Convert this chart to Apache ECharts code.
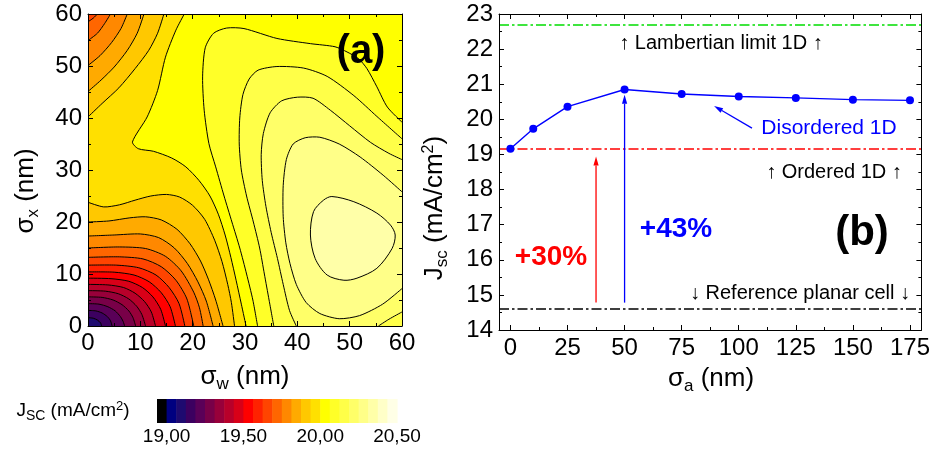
<!DOCTYPE html>
<html>
<head>
<meta charset="utf-8">
<script src="https://cdn.jsdelivr.net/npm/echarts@6/dist/echarts.min.js"></script>
<style>
html, body { margin: 0; padding: 0; background: #fff; }
#chart { width: 933px; height: 450px; }
</style>
</head>
<body>
<div id="chart"></div>
<script>
// ---------- panel (a): Jsc map, contour lines ([sigma_w, sigma_x] in nm) ----------
var bandColors = ['#000000', '#000080', '#1e0a70', '#3c0060', '#5a0058', '#780048', '#98003a', '#b8002a',
  '#d80018', '#ff0000', '#ff2200', '#ff4400', '#ff6600', '#ff8800', '#ffaa00', '#ffc800', '#ffe000',
  '#ffff00', '#ffff28', '#ffff48', '#ffff68', '#ffff88', '#ffffa8', '#ffffc8', '#ffffe6'];
var cbarMin = 18.9375, cbarStep = 0.0625;
var cbarTicks = [19, 19.5, 20, 20.5];

// lines around the low corner, band 2|3 ... 15|16 (left edge -> bottom edge)
var lowLines = [
  [[0, 1.6], [1.0, 1.5], [1.8, 1.15], [2.4, 0.6], [2.6, 0]],
  [[0, 3.0], [1.5, 2.9], [2.7, 2.5], [3.7, 1.8], [4.3, 1.0], [4.6, 0]],
  [[0, 4.3], [2.1, 4.2], [3.8, 3.7], [5.2, 2.9], [6.2, 1.8], [6.7, 0.9], [7.0, 0]],
  [[0, 5.6], [2.7, 5.5], [4.8, 5.0], [6.5, 4.1], [7.8, 2.9], [8.6, 1.6], [9.1, 0]],
  [[0, 6.8], [3.3, 6.7], [5.8, 6.2], [7.8, 5.2], [9.3, 3.8], [10.3, 2.2], [11.0, 0]],
  [[0, 8.0], [3.8, 7.9], [6.8, 7.4], [9.0, 6.3], [10.8, 4.7], [12.1, 2.7], [12.9, 0]],
  [[0, 9.2], [4.4, 9.1], [7.8, 8.6], [10.4, 7.4], [12.4, 5.6], [13.9, 3.2], [14.8, 0]],
  [[0, 10.4], [5, 10.35], [8.8, 9.8], [11.7, 8.5], [14, 6.4], [15.7, 3.7], [16.7, 0]],
  [[0, 11.7], [5.5, 11.7], [9.7, 11.2], [13, 9.8], [15.5, 7.4], [17.4, 4.3], [18.5, 0]],
  [[0, 13.2], [6, 13.3], [10.5, 12.9], [14, 11.4], [16.8, 8.8], [18.9, 5.2], [20.2, 0]],
  [[0, 15.0], [6, 15.2], [11, 14.9], [14.8, 13.4], [17.8, 10.6], [20.2, 6.5], [21.3, 3.5], [22.0, 0]],
  [[0, 17.3], [5, 17.5], [10, 17.7], [13.5, 17], [16.5, 15], [19, 12], [21, 8.5], [22.6, 4.8], [23.9, 0]],
  [[0, 20], [4, 20.2], [8, 20.8], [11, 21], [14, 20.4], [17, 18.6], [19.5, 15.8], [21.5, 12.5], [23, 9], [24.4, 5], [25.8, 0]],
  [[0, 23.8], [3, 22.9], [6, 23.3], [9, 24.2], [12, 25], [15, 25.3], [17.5, 24.8], [20, 23.2], [22.3, 20.5],
    [24.2, 16.5], [25.6, 12.4], [26.7, 8], [27.4, 4.5], [28, 0]]
];
// arcs round the top-left corner, band 11|12 ... 15|16 (left edge -> top edge)
var cornerArcs = [
  [[0, 58.5], [1, 59.2], [1.8, 60]],
  [[0, 54.9], [1.8, 56.3], [3.2, 58.2], [4.3, 60]],
  [[0, 50.1], [2.3, 52], [4.5, 54.5], [6.3, 57.2], [7.5, 60]],
  [[0, 45.1], [2.5, 47.3], [5, 49.8], [7.5, 53], [9.4, 56.3], [10.7, 60]],
  [[0, 40.2], [2.7, 42.8], [5.9, 45.8], [9, 49.5], [11.6, 53], [13.3, 56.3], [14.5, 60]]
];
// band 16|17, top edge -> bottom edge
var ridgeB = [[18.4, 60], [16.8, 56.9], [14.8, 51.7], [13.3, 45.3], [11.3, 40.2], [8.5, 35.4], [9.6, 34.1],
  [12.5, 33.6], [16, 32.3], [18.7, 30.6], [21.2, 28], [23.3, 25], [24.9, 21.5], [26.2, 17.5], [27.3, 13.2],
  [28.3, 8.8], [29.3, 4.2], [30.2, 0]];
// band 17|18, bottom edge -> right edge
var ringC = [[32.4, 0], [31.5, 5], [30.3, 10], [29, 15], [27.5, 20], [26, 25], [24.4, 30.6], [23.1, 35.1],
  [22.2, 41.5], [21.9, 47.9], [22.4, 53.5], [24, 56.3], [26.5, 57.3], [29.8, 57.2], [36.1, 55.3], [42.5, 54.3],
  [47.2, 53.7], [49.5, 52.7], [51.7, 51.4], [53.3, 49.5], [55.2, 46], [57.2, 42.1], [60, 39.2]];
// band 18|19
var ringD = [[35.5, 0], [34.6, 5], [33.7, 10], [32.8, 15], [31.6, 20], [30.3, 25], [29.3, 30], [28.9, 35],
  [29, 40], [29.6, 44.5], [30.8, 47.5], [32.5, 49.2], [36.1, 49.9], [41.2, 49.6], [45.7, 48], [50.8, 44.3],
  [55.2, 40.3], [60, 36]];
// band 19|20, plus its short piece in the bottom-right corner
var ringE = [[39.8, 0], [38.5, 3], [37.3, 8], [36.2, 13], [35, 18], [34, 23], [33.3, 28], [33.1, 33], [33.5, 37],
  [34.8, 41], [37, 43.3], [40, 44], [43, 43.8], [46.3, 41.5], [50, 38.5], [54, 35.3], [57.5, 33.2], [60, 32]];
var ringECorner = [[55.5, 0], [57.5, 1.3], [60, 2.7]];
// band 20|21, right edge -> right edge
var ringF = [[60, 25.8], [56.4, 29], [52, 32.5], [48, 35], [44.3, 36.3], [41.5, 36.2], [39.2, 35], [37.9, 32],
  [37.3, 27], [37.3, 21], [37.8, 16], [38.6, 12], [39.8, 8], [41.7, 4.5], [44.3, 2.4], [48, 1.4], [51.9, 2],
  [56.3, 4.2], [60, 7.2]];
// band 21|22, closed loop round the maximum
var peakG = [[46.6, 24.9], [50.8, 23.9], [55.2, 21.7], [57.8, 19.4], [58.7, 17.5], [58.1, 14.9], [55.2, 11.1],
  [51.4, 9.2], [48.9, 8.8], [45.7, 9.8], [43.4, 13], [42.5, 17.5], [43.1, 22], [45, 24.2]];

// ---------- panel (b) ----------
var sigmaA = [0, 10, 25, 50, 75, 100, 125, 150, 175];
var jscDisordered = [19.16, 19.73, 20.36, 20.85, 20.72, 20.65, 20.61, 20.56, 20.54];
var jscLambert = 22.7;
var jscOrdered = 19.16;
var jscPlanar = 14.6;
var xTicksB = [0, 25, 50, 75, 100, 125, 150, 175];
var xMinorB = [12.5, 37.5, 62.5, 87.5, 112.5, 137.5, 162.5];
var arrowRed = [37.5, 14.78, 37.5, 18.94];
var arrowBlue = [50, 14.78, 50, 20.7];
var arrowTag = [105.8, 19.75, 89.2, 20.38];

var F = "'Liberation Sans', Arial, Helvetica, sans-serif";
var M = 60;

// superlevel regions, painted from low band to high band
var fills = [{ band: 2, pts: [[0, 0], [M, 0], [M, M], [0, M]] }];
lowLines.forEach(function (ln, i) {
  var band = i + 3;
  var arc = cornerArcs[band - 12];
  var pts = ln.concat([[M, 0], [M, M]]);
  pts = arc ? pts.concat(arc.slice().reverse()) : pts.concat([[0, M]]);
  fills.push({ band: band, pts: pts });
});
fills.push({ band: 17, pts: ridgeB.concat([[M, 0], [M, M]]) });
fills.push({ band: 18, pts: ringC.concat([[M, 0]]) });
fills.push({ band: 19, pts: ringD.concat([[M, 0]]) });
fills.push({ band: 20, pts: ringE.concat(ringECorner.slice().reverse()) });
fills.push({ band: 21, pts: ringF });
fills.push({ band: 22, pts: peakG });

var strokes = lowLines.concat(cornerArcs, [ridgeB, ringC, ringD, ringE, ringECorner, ringF]);

function renderContour(params, api) {
  function px(list) {
    return list.map(function (p) { return api.coord(p); });
  }
  var kids = [];
  fills.forEach(function (f) {
    var c = bandColors[f.band];
    kids.push({ type: 'polygon', shape: { points: px(f.pts) },
      style: { fill: c, stroke: c, lineWidth: 0.6 } });
  });
  strokes.forEach(function (ln) {
    kids.push({ type: 'polyline', shape: { points: px(ln), smooth: 0.25 },
      style: { fill: 'none', stroke: '#000', lineWidth: 1 } });
  });
  kids.push({ type: 'polygon', shape: { points: px(peakG), smooth: 0.3 },
    style: { fill: 'none', stroke: '#000', lineWidth: 1 } });
  return { type: 'group', children: kids };
}

function renderBand(params, api) {
  var i = params.dataIndex;
  var x0 = cbarMin + i * cbarStep;
  var p0 = api.coord([x0, 1]);
  var p1 = api.coord([x0 + cbarStep, 0]);
  return { type: 'rect', shape: { x: p0[0], y: p0[1], width: p1[0] - p0[0] + 0.6, height: p1[1] - p0[1] },
    style: { fill: bandColors[i] } };
}

var arrowColors = ['#ff0000', '#0000ff', '#0000ff'];
function renderArrow(params, api) {
  var p0 = api.coord([api.value(0), api.value(1)]);
  var p1 = api.coord([api.value(2), api.value(3)]);
  var dx = p1[0] - p0[0], dy = p1[1] - p0[1];
  var len = Math.sqrt(dx * dx + dy * dy);
  var ux = dx / len, uy = dy / len, hl = 9, hw = 2.6;
  var bx = p1[0] - ux * hl, by = p1[1] - uy * hl;
  var c = arrowColors[params.dataIndex];
  return { type: 'group', children: [
    { type: 'line', shape: { x1: p0[0], y1: p0[1], x2: bx, y2: by }, style: { stroke: c, lineWidth: 1.3 } },
    { type: 'polygon', shape: { points: [[p1[0], p1[1]], [bx - uy * hw, by + ux * hw], [bx + uy * hw, by - ux * hw]] },
      style: { fill: c } }
  ] };
}

var black = { color: '#000', width: 1 };
function frame(extra) {
  var o = {
    type: 'value', z: 10,
    axisLine: { show: true, onZero: false, lineStyle: black },
    axisTick: { show: true, inside: true, length: 5, lineStyle: black },
    splitLine: { show: false },
    axisLabel: { show: false }
  };
  for (var k in extra) o[k] = extra[k];
  return o;
}
function lab(margin, more) {
  var o = { show: true, color: '#000', fontSize: 24, fontFamily: F, margin: margin };
  for (var k in more) o[k] = more[k];
  return o;
}
var minor = { show: true, splitNumber: 2, length: 3, lineStyle: black };

var titleRich = {
  m: { fontSize: 26, fontFamily: F, color: '#000' },
  s: { fontSize: 17, fontFamily: F, color: '#000', padding: [14, 0, 0, 0] },
  p: { fontSize: 16, fontFamily: F, color: '#000', padding: [0, 0, 13, 0] }
};
var cbRich = {
  m: { fontSize: 19, fontFamily: F, color: '#000' },
  s: { fontSize: 14, fontFamily: F, color: '#000', padding: [11, 0, 0, 0] },
  p: { fontSize: 13, fontFamily: F, color: '#000', padding: [0, 0, 10, 0] }
};
function txt(x, y, text, opts) {
  var st = { text: text, textAlign: 'center', textVerticalAlign: 'middle', fill: '#000',
    font: '20px ' + F };
  for (var k in opts) st[k] = opts[k];
  return { type: 'text', x: x, y: y, z: 100, style: st };
}

var chart = echarts.init(document.getElementById('chart'));
chart.setOption({
  animation: false,
  backgroundColor: '#fff',
  grid: [
    { left: 88, top: 14, width: 314, height: 312 },
    { left: 499, top: 14, width: 424, height: 316 },
    { left: 157, top: 399, width: 240, height: 24 }
  ],
  xAxis: [
    frame({ gridIndex: 0, min: 0, max: 60, interval: 10, position: 'bottom', minorTick: minor, axisLabel: lab(5) }),
    frame({ gridIndex: 0, min: 0, max: 60, interval: 10, position: 'top', minorTick: minor }),
    frame({ gridIndex: 1, min: -5, max: 180, position: 'bottom',
      axisTick: { show: true, inside: true, length: 5, lineStyle: black, customValues: xTicksB },
      axisLabel: lab(6, { customValues: xTicksB }) }),
    frame({ gridIndex: 1, min: -5, max: 180, position: 'bottom', axisLine: { show: false, onZero: false },
      axisTick: { show: true, inside: true, length: 3, lineStyle: black, customValues: xMinorB } }),
    frame({ gridIndex: 1, min: -5, max: 180, position: 'top',
      axisTick: { show: true, inside: true, length: 5, lineStyle: black, customValues: xTicksB } }),
    frame({ gridIndex: 1, min: -5, max: 180, position: 'top', axisLine: { show: false, onZero: false },
      axisTick: { show: true, inside: true, length: 3, lineStyle: black, customValues: xMinorB } }),
    { gridIndex: 2, type: 'value', min: cbarMin, max: 20.5, position: 'bottom',
      axisLine: { show: false }, axisTick: { show: false }, splitLine: { show: false },
      axisLabel: { show: true, color: '#000', fontSize: 19, fontFamily: F, margin: 4, customValues: cbarTicks,
        formatter: function (v) { return v.toFixed(2).replace('.', ','); } } }
  ],
  yAxis: [
    frame({ gridIndex: 0, min: 0, max: 60, interval: 10, position: 'left', minorTick: minor, axisLabel: lab(6) }),
    frame({ gridIndex: 0, min: 0, max: 60, interval: 10, position: 'right', minorTick: minor }),
    frame({ gridIndex: 1, min: 14, max: 23, interval: 1, position: 'left', minorTick: minor, axisLabel: lab(6) }),
    frame({ gridIndex: 1, min: 14, max: 23, interval: 1, position: 'right', minorTick: minor }),
    { gridIndex: 2, type: 'value', min: 0, max: 1, show: false }
  ],
  series: [
    { type: 'custom', name: 'map', xAxisIndex: 0, yAxisIndex: 0, silent: true, clip: true,
      data: [[0, 0]], renderItem: renderContour },
    { type: 'custom', name: 'colorbar', xAxisIndex: 6, yAxisIndex: 4, silent: true,
      data: bandColors.map(function (c, i) { return [i]; }), renderItem: renderBand },
    { type: 'line', name: 'Disordered 1D', xAxisIndex: 2, yAxisIndex: 2, z: 5,
      data: sigmaA.map(function (x, i) { return [x, jscDisordered[i]]; }),
      symbol: 'circle', symbolSize: 8, showSymbol: true,
      lineStyle: { color: '#0000ff', width: 1.4 }, itemStyle: { color: '#0000ff' },
      markLine: { silent: true, symbol: 'none', label: { show: false },
        data: [
          { yAxis: jscLambert, lineStyle: { color: '#00dd00', width: 1.6, type: [10, 3, 2.5, 3] } },
          { yAxis: jscOrdered, lineStyle: { color: '#ff0000', width: 1.6, type: [10, 3, 2.5, 3] } },
          { yAxis: jscPlanar, lineStyle: { color: '#000000', width: 1.6, type: [10, 3, 2.5, 3] } }
        ] } },
    { type: 'custom', name: 'arrows', xAxisIndex: 2, yAxisIndex: 2, silent: true, z: 6,
      data: [arrowRed, arrowBlue, arrowTag], renderItem: renderArrow }
  ],
  graphic: [
    txt(361, 52, '(a)', { font: 'bold 40px ' + F }),
    txt(862, 233, '(b)', { font: 'bold 42px ' + F }),
    txt(721, 43, '↑ Lambertian limit 1D ↑'),
    txt(829, 128, 'Disordered 1D', { fill: '#0000ff', font: '21px ' + F }),
    txt(834, 172, '↑ Ordered 1D ↑'),
    txt(800, 293, '↓ Reference planar cell ↓'),
    txt(551, 257, '+30%', { fill: '#ff0000', font: 'bold 28px ' + F }),
    txt(676, 229, '+43%', { fill: '#0000ff', font: 'bold 28px ' + F }),
    txt(245, 377, '{m|σ}{s|w}{m| (nm)}', { rich: titleRich }),
    txt(711, 379, '{m|σ}{s|a}{m| (nm)}', { rich: titleRich }),
    { type: 'text', x: 26, y: 191, rotation: Math.PI / 2, z: 100,
      style: { text: '{m|σ}{s|x}{m| (nm)}', rich: titleRich, textAlign: 'center', textVerticalAlign: 'middle' } },
    { type: 'text', x: 435, y: 208, rotation: Math.PI / 2, z: 100,
      style: { text: '{m|J}{s|sc}{m| (mA/cm}{p|2}{m|)}', rich: titleRich, textAlign: 'center', textVerticalAlign: 'middle' } },
    txt(73, 411, '{m|J}{s|SC}{m| (mA/cm}{p|2}{m|)}', { rich: cbRich })
  ]
});
</script>
</body>
</html>
